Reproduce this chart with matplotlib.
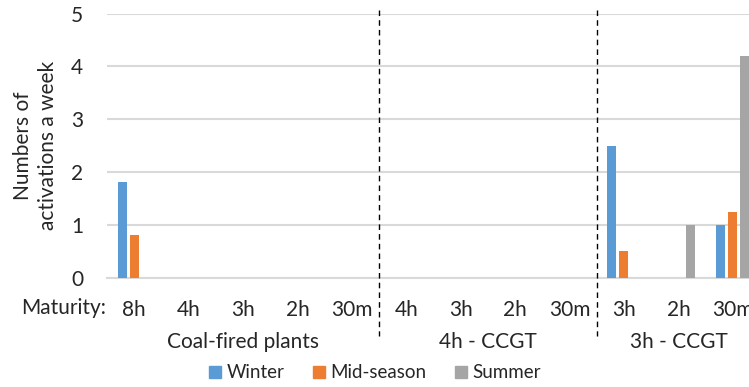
import matplotlib
matplotlib.use("Agg")
import matplotlib.pyplot as plt
import numpy as np
from matplotlib.patches import Patch

plt.rcParams['font.family'] = ['Lato', 'DejaVu Sans']

groups = ["Coal-fired plants", "4h - CCGT", "3h - CCGT"]
group_maturities = [["8h", "4h", "3h", "2h", "30m"],
                    ["4h", "3h", "2h", "30m"],
                    ["3h", "2h", "30m"]]
series_names = ["Winter", "Mid-season", "Summer"]
winter = [1.8, 0, 0, 0, 0, 0, 0, 0, 0, 2.5, 0, 1.0]
mid_season = [0.8, 0, 0, 0, 0, 0, 0, 0, 0, 0.5, 0, 1.25]
summer = [0, 0, 0, 0, 0, 0, 0, 0, 0, 0, 1.0, 4.2]
colors = ["#5B9BD5", "#ED7D31", "#A5A5A5"]

W, H = 749, 387
fig = plt.figure(figsize=(W / 100, H / 100), dpi=100)
ax_left, ax_right = 107, 760
ax_top, ax_bot = 13.5, 277.5
ax = fig.add_axes([ax_left / W, 1 - ax_bot / H, (ax_right - ax_left) / W, (ax_bot - ax_top) / H])

labels = [m for g in group_maturities for m in g]
n = len(labels)
x = np.arange(n)
bw = 0.165
step = 0.22
for i, (vals, c, name) in enumerate(zip([winter, mid_season, summer], colors, series_names)):
    ax.bar(x + (i - 1) * step, vals, width=bw, color=c, label=name, zorder=3)

txt = "#262626"
fs = 15
ax.set_xlim(-0.5, n - 0.5)
ax.set_ylim(0, 5)
ax.set_yticks(range(0, 6))
ax.yaxis.grid(True, color="#d9d9d9", linewidth=1.5, zorder=0)
ax.set_axisbelow(True)
for s in ["top", "right", "left"]:
    ax.spines[s].set_visible(False)
ax.spines["bottom"].set_color("#d9d9d9")
ax.spines["bottom"].set_linewidth(1.5)
ax.tick_params(axis="both", length=0)
ax.tick_params(axis="y", labelsize=fs, pad=17, colors=txt)
ax.set_xticks(x)
ax.set_xticklabels(labels, fontsize=fs, color=txt)
ax.tick_params(axis="x", pad=16)

ax.set_ylabel("Numbers of\nactivations a week", fontsize=fs, color=txt, linespacing=1.3)
ax.yaxis.set_label_coords(-(107 - 58) / 653, 0.5)

# "Maturity:" label
ax.annotate("Maturity:", xy=(0, 0), xycoords="axes fraction", xytext=(-1, -30), textcoords="offset pixels",
            ha="right", va="center", fontsize=fs, color=txt)

# group separators and labels
start = 0
sizes = [len(g) for g in group_maturities]
bounds = np.cumsum(sizes)
for gi, (g, sz) in enumerate(zip(groups, sizes)):
    center = start + (sz - 1) / 2
    ax.annotate(g, xy=(center, 0), xycoords=ax.get_xaxis_transform(), xytext=(0, -65),
                textcoords="offset pixels", ha="center", va="center", fontsize=fs, color=txt)
    start += sz
for b in bounds[:-1]:
    ax.plot([b - 0.5, b - 0.5], [5.07, -1.11], color="black", linestyle=(0, (4, 3)), linewidth=1.0,
            clip_on=False, zorder=4)

handles = [Patch(color=c, label=nm) for c, nm in zip(colors, series_names)]
fig.legend(handles=handles, loc="center", bbox_to_anchor=(375 / W, 1 - 373 / H), ncol=3, frameon=False,
           fontsize=13.5, handlelength=0.65, handleheight=0.65, handletextpad=0.3, columnspacing=1.5,
           labelcolor=txt)

fig.savefig("out.png", dpi=100)
